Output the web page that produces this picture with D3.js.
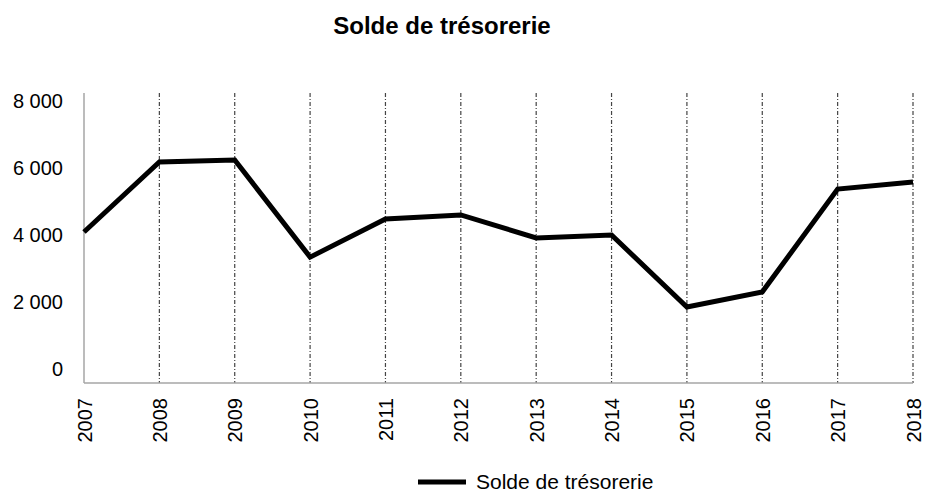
<!DOCTYPE html>
<html>
<head>
<meta charset="utf-8">
<script src="https://cdn.jsdelivr.net/npm/d3@7"></script>
<style>
  body { margin: 0; background: #fff; }
  svg { font-family: "Liberation Sans", Arial, sans-serif; }
</style>
</head>
<body>
<div id="chart"></div>
<script>
// Solde de trésorerie 2007-2018

const years = ['2007', '2008', '2009', '2010', '2011', '2012', '2013', '2014', '2015', '2016', '2017', '2018'];
const solde = [4090, 6180, 6240, 3340, 4480, 4600, 3910, 4000, 1850, 2300, 5370, 5580];
const yTicks = [0, 2000, 4000, 6000, 8000];
const seriesName = 'Solde de trésorerie';

const width = 927, height = 493;
const plotLeft = 84, plotRight = 913, plotTop = 93, plotBottom = 383;

const svg = d3.select('#chart').append('svg')
    .attr('width', width)
    .attr('height', height);

const x = d3.scalePoint()
    .domain(years)
    .range([plotLeft, plotRight]);

const y = d3.scaleLinear()
    .domain([0, 8000])
    .range([369, 101]);

// Title
svg.append('text')
    .attr('x', 442)
    .attr('y', 34)
    .attr('text-anchor', 'middle')
    .style('font-size', '24px')
    .style('font-weight', 'bold')
    .text('Solde de trésorerie');

// Vertical dash-dot gridlines
svg.append('g')
    .selectAll('line')
    .data(years.slice(1))
    .enter()
    .append('line')
    .attr('x1', d => x(d))
    .attr('x2', d => x(d))
    .attr('y1', plotTop)
    .attr('y2', plotBottom)
    .style('stroke', '#444')
    .style('stroke-width', 1.2)
    .style('stroke-dasharray', '4,2,1,2');

// Axis lines
svg.append('line')
    .attr('x1', plotLeft).attr('x2', plotLeft)
    .attr('y1', plotTop).attr('y2', plotBottom)
    .style('stroke', '#a6a6a6')
    .style('stroke-width', 1.5);

svg.append('line')
    .attr('x1', plotLeft).attr('x2', plotRight)
    .attr('y1', plotBottom).attr('y2', plotBottom)
    .style('stroke', '#a6a6a6')
    .style('stroke-width', 1.5);

// Y axis labels
const yAxis = svg.append('g')
    .attr('transform', `translate(${plotLeft},0)`)
    .call(d3.axisLeft(y)
        .tickValues(yTicks)
        .tickSize(0)
        .tickPadding(21)
        .tickFormat(d => d3.format(',')(d).replace(',', ' ')));
yAxis.select('.domain').remove();
yAxis.selectAll('text')
    .style('font-size', '20px')
    .style('fill', '#000');

// X axis labels, rotated
const xAxis = svg.append('g')
    .attr('transform', `translate(0,${plotBottom})`)
    .call(d3.axisBottom(x).tickSize(0));
xAxis.select('.domain').remove();
xAxis.selectAll('text')
    .attr('transform', 'rotate(-90)')
    .attr('x', -15)
    .attr('y', 0)
    .attr('dy', '0.35em')
    .attr('text-anchor', 'end')
    .style('font-size', '20px')
    .style('fill', '#000');

// Data line
const line = d3.line()
    .x((d, i) => x(years[i]))
    .y(d => y(d));

svg.append('path')
    .datum(solde)
    .attr('d', line)
    .style('fill', 'none')
    .style('stroke', '#000')
    .style('stroke-width', 5)
    .style('stroke-linejoin', 'miter');

// Legend
const legend = svg.append('g')
    .attr('transform', 'translate(418,482)');

legend.append('line')
    .attr('x1', 0).attr('x2', 48)
    .attr('y1', 0).attr('y2', 0)
    .style('stroke', '#000')
    .style('stroke-width', 5);

legend.append('text')
    .attr('x', 58)
    .attr('y', 7)
    .style('font-size', '21px')
    .text(seriesName);
</script>
</body>
</html>
